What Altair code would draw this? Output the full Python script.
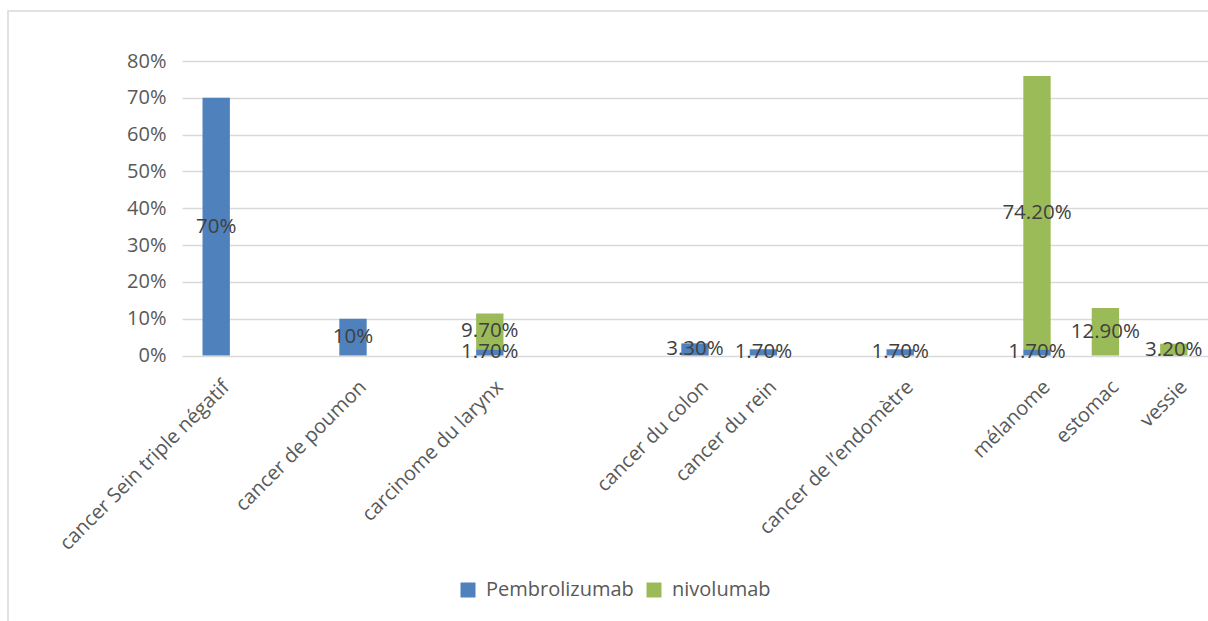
import altair as alt
import pandas as pd

# ---------------- data ----------------
categories = ["cancer Sein triple négatif", "cancer de poumon", "carcinome du larynx",
              "cancer du colon", "cancer du rein", "cancer de l’endomètre",
              "mélanome", "estomac", "vessie"]
series = ["Pembrolizumab", "nivolumab"]
pembrolizumab = [0.70, 0.10, 0.017, 0.033, 0.017, 0.017, 0.017, 0.0, 0.0]
nivolumab = [0.0, 0.0, 0.097, 0.0, 0.0, 0.0, 0.742, 0.129, 0.032]
pembrolizumab_labels = ["70%", "10%", "1.70%", "3.30%", "1.70%", "1.70%", "1.70%", "", ""]
nivolumab_labels = ["", "", "9.70%", "", "", "", "74.20%", "12.90%", "3.20%"]
y_ticks = [0.0, 0.1, 0.2, 0.3, 0.4, 0.5, 0.6, 0.7, 0.8]
colors = ["#4f81bd", "#9bbb59"]

# ---------------- layout: the category axis has 15 slots, some of them blank ----------------
slot_of = [0, 2, 4, 7, 8, 10, 12, 13, 14]
n_slots = 15
x_domain = []
for i in range(n_slots):
    if i in slot_of:
        x_domain.append(categories[slot_of.index(i)])
    else:
        x_domain.append(" " * (i + 1))

rows = []
for s_idx, (name, vals, labs) in enumerate([
        (series[0], pembrolizumab, pembrolizumab_labels),
        (series[1], nivolumab, nivolumab_labels)]):
    for c, v, l in zip(categories, vals, labs):
        rows.append({"category": c, "series": name, "value": v, "label": l, "order": s_idx})
df = pd.DataFrame(rows)

FONT = "Open Sans"
GRAY = "#595959"

x_scale = alt.Scale(domain=x_domain, paddingInner=0.6, paddingOuter=0.3, align=0.5, round=False)
y_scale = alt.Scale(domain=[0, 0.8], nice=False, zero=True)

x_axis = alt.Axis(labelAngle=-45, labelFontSize=20, labelColor=GRAY, labelFont=FONT,
                  domain=False, ticks=False, labelPadding=21, labelOffset=3,
                  labelOverlap=False, grid=False, title=None, labelLimit=400)
y_axis = alt.Axis(values=y_ticks, tickCount=20, format=".0%", domain=False, ticks=False,
                  labelPadding=16, labelOverlap=False,
                  labelFontSize=20, labelColor=GRAY, labelFont=FONT,
                  gridColor="#d9d9d9", gridWidth=1.3, title=None)

base = alt.Chart(df)

bars = base.mark_bar().encode(
    x=alt.X("category:N", scale=x_scale, axis=x_axis, title=None),
    y=alt.Y("value:Q", stack="zero", scale=y_scale, axis=y_axis, title=None),
    color=alt.Color("series:N",
                    scale=alt.Scale(domain=series, range=colors),
                    legend=alt.Legend(orient="none", legendX=276, legendY=519,
                                      direction="horizontal", title=None,
                                      symbolType="square", symbolSize=225,
                                      symbolStrokeWidth=0,
                                      labelFontSize=20, labelColor=GRAY, labelFont=FONT,
                                      labelOffset=8, columnPadding=10, padding=0)),
    order=alt.Order("order:Q"),
)

labels = base.transform_stack(
    stack="value", groupby=["category"], as_=["v0", "v1"],
    sort=[alt.SortField("order", order="ascending")]
).transform_calculate(
    mid="(datum.v0 + datum.v1) / 2"
).transform_filter(
    "datum.label != ''"
).mark_text(fontSize=20.5, color="#404040", font=FONT, baseline="middle", align="center").encode(
    x=alt.X("category:N", scale=x_scale),
    y=alt.Y("mid:Q", scale=y_scale),
    text="label:N",
)

frame = alt.Chart(pd.DataFrame({"k": [0]})).mark_rect(
    fill="transparent", stroke="#d9d9d9", strokeWidth=1.5
).encode(
    x=alt.value(-174), x2=alt.value(1040), y=alt.value(-50), y2=alt.value(580)
)

chart = alt.layer(frame, bars, labels).properties(
    width=1026, height=294.5,
    autosize=alt.AutoSizeParams(type="none"),
    padding={"left": 182, "top": 61, "right": 0, "bottom": 265.5},
    background="white",
).configure_view(stroke=None)

chart.save("out.html", embed_options={"renderer": "svg", "actions": False})
